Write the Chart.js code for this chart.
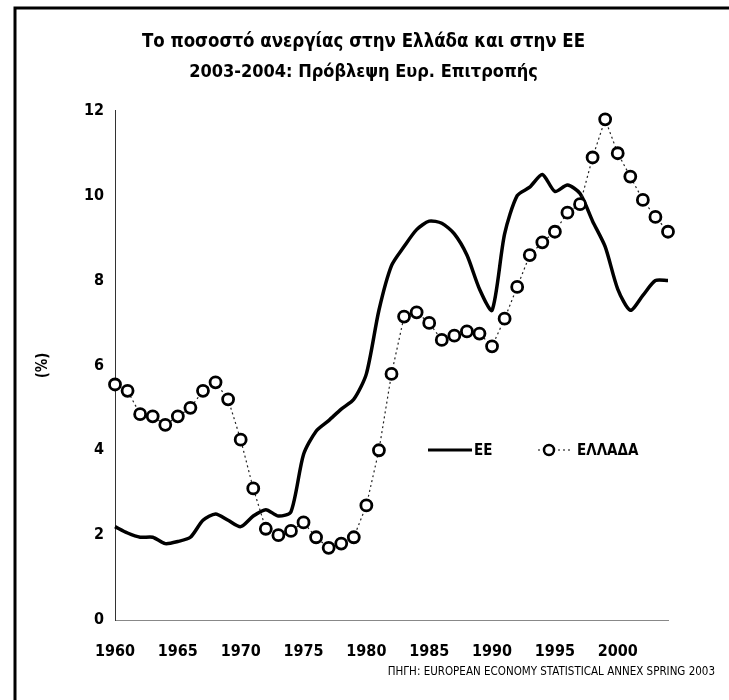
<!DOCTYPE html>
<html>
<head>
<meta charset="utf-8">
<script src="https://cdn.jsdelivr.net/npm/chart.js@4.4.1/dist/chart.umd.min.js"></script>
<style>
  body { margin: 0; background: #fff; }
  canvas { display: block; }
</style>
</head>
<body>
<canvas id="anergia" width="729" height="700"></canvas>
<script>
const years = ['1960', '1961', '1962', '1963', '1964', '1965', '1966', '1967', '1968', '1969',
  '1970', '1971', '1972', '1973', '1974', '1975', '1976', '1977', '1978', '1979',
  '1980', '1981', '1982', '1983', '1984', '1985', '1986', '1987', '1988', '1989',
  '1990', '1991', '1992', '1993', '1994', '1995', '1996', '1997', '1998', '1999',
  '2000', '2001', '2002', '2003', '2004'];

const ee = [2.2, 2.05, 1.95, 1.95, 1.8, 1.85, 1.95, 2.35, 2.5, 2.35,
  2.2, 2.45, 2.6, 2.45, 2.55, 3.9, 4.45, 4.7, 4.97, 5.2,
  5.8, 7.3, 8.35, 8.8, 9.2, 9.4, 9.35, 9.1, 8.6, 7.8,
  7.3, 9.1, 10.0, 10.2, 10.5, 10.1, 10.25, 10.05, 9.4, 8.8,
  7.8, 7.3, 7.65, 8.0, 8.0];

const ellada = [5.55, 5.4, 4.85, 4.8, 4.6, 4.8, 5.0, 5.4, 5.6, 5.2,
  4.25, 3.1, 2.15, 2.0, 2.1, 2.3, 1.95, 1.7, 1.8, 1.95,
  2.7, 4.0, 5.8, 7.15, 7.25, 7.0, 6.6, 6.7, 6.8, 6.75,
  6.45, 7.1, 7.85, 8.6, 8.9, 9.15, 9.6, 9.8, 10.9, 11.8,
  11.0, 10.45, 9.9, 9.5, 9.15];

const yTicks = [0, 2, 4, 6, 8, 10, 12];

const titlos = 'Το ποσοστό ανεργίας στην Ελλάδα και στην ΕΕ';
const ypotitlos = '2003-2004: Πρόβλεψη Ευρ. Επιτροπής';
const pigi = 'ΠΗΓΗ: EUROPEAN ECONOMY STATISTICAL ANNEX SPRING 2003';

const narrow = "'Liberation Sans Narrow', 'Arial Narrow', 'DejaVu Sans Condensed', sans-serif";
Chart.defaults.color = '#000';
Chart.defaults.font.family = narrow;

// πλαίσιο, υπόμνημα και πηγή
const extras = {
  id: 'extras',
  afterDraw(chart) {
    const ctx = chart.ctx;
    ctx.save();
    ctx.strokeStyle = '#000';
    ctx.lineWidth = 3;
    ctx.beginPath();
    ctx.moveTo(15, 700);
    ctx.lineTo(15, 8);
    ctx.lineTo(729, 8);
    ctx.stroke();

    // υπόμνημα
    ctx.lineWidth = 3;
    ctx.beginPath();
    ctx.moveTo(428, 450);
    ctx.lineTo(472, 450);
    ctx.stroke();
    ctx.font = 'bold 15px ' + narrow;
    ctx.fillStyle = '#000';
    ctx.textBaseline = 'middle';
    ctx.fillText('ΕΕ', 474, 451);

    ctx.lineWidth = 1.2;
    ctx.setLineDash([2, 3]);
    ctx.beginPath();
    ctx.moveTo(538, 450);
    ctx.lineTo(572, 450);
    ctx.stroke();
    ctx.setLineDash([]);
    ctx.lineWidth = 2.5;
    ctx.fillStyle = '#fff';
    ctx.beginPath();
    ctx.arc(549, 450, 5, 0, Math.PI * 2);
    ctx.fill();
    ctx.stroke();
    ctx.fillStyle = '#000';
    ctx.fillText('ΕΛΛΑΔΑ', 577, 451);

    ctx.font = '11.5px ' + narrow;
    ctx.textAlign = 'right';
    ctx.fillText(pigi, 715, 672);
    ctx.restore();
  }
};

new Chart(document.getElementById('anergia'), {
  type: 'line',
  data: {
    labels: years,
    datasets: [{
      label: 'ΕΛΛΑΔΑ',
      data: ellada,
      order: 0,
      borderColor: '#222',
      borderWidth: 1.2,
      borderDash: [2, 3],
      pointRadius: 5.5,
      pointBorderWidth: 2.8,
      pointBackgroundColor: '#fff',
      pointBorderColor: '#000',
      tension: 0
    }, {
      label: 'ΕΕ',
      data: ee,
      order: 1,
      borderColor: '#000',
      borderWidth: 3.5,
      pointRadius: 0,
      tension: 0.25
    }]
  },
  options: {
    responsive: false,
    animation: false,
    layout: { padding: { left: 16, right: 18, top: 0, bottom: 0 } },
    plugins: {
      legend: { display: false },
      tooltip: { enabled: false },
      title: {
        display: true,
        text: titlos,
        font: { size: 18.5, weight: 'bold' },
        padding: { top: 31, bottom: 4 }
      },
      subtitle: {
        display: true,
        text: ypotitlos,
        color: '#000',
        font: { size: 18, weight: 'bold', family: narrow },
        padding: { top: 4, bottom: 28 }
      }
    },
    scales: {
      x: {
        offset: false,
        grid: { display: false, drawTicks: false },
        border: { display: true, color: '#888', width: 1, dash: [2, 2] },
        ticks: {
          autoSkip: false,
          maxRotation: 0,
          padding: 22,
          font: { size: 16, weight: 'bold' },
          callback: function (v, i) {
            const y = years[i];
            return Number(y) % 5 === 0 ? y : '';
          }
        },
        afterFit: function (scale) { scale.height = 80; }
      },
      y: {
        min: 0,
        max: 12,
        afterBuildTicks: function (scale) {
          scale.ticks = yTicks.map(v => ({ value: v }));
        },
        grid: { display: false, drawTicks: false },
        border: { display: true, color: '#333', width: 1, dash: [7, 3, 2, 3] },
        ticks: {
          padding: 11,
          font: { size: 16, weight: 'bold' }
        },
        title: {
          display: true,
          text: '(%)',
          font: { size: 15, weight: 'bold' },
          padding: { top: 18, bottom: 0 }
        },
        afterFit: function (scale) { scale.width = 99; }
      },
      // κενός δεξιός άξονας, μόνο για το περιθώριο
      y2: {
        position: 'right',
        min: 0,
        max: 12,
        grid: { display: false, drawTicks: false },
        border: { display: false },
        ticks: { display: false },
        afterFit: function (scale) { scale.width = 43; }
      }
    }
  },
  plugins: [extras]
});
</script>
</body>
</html>
